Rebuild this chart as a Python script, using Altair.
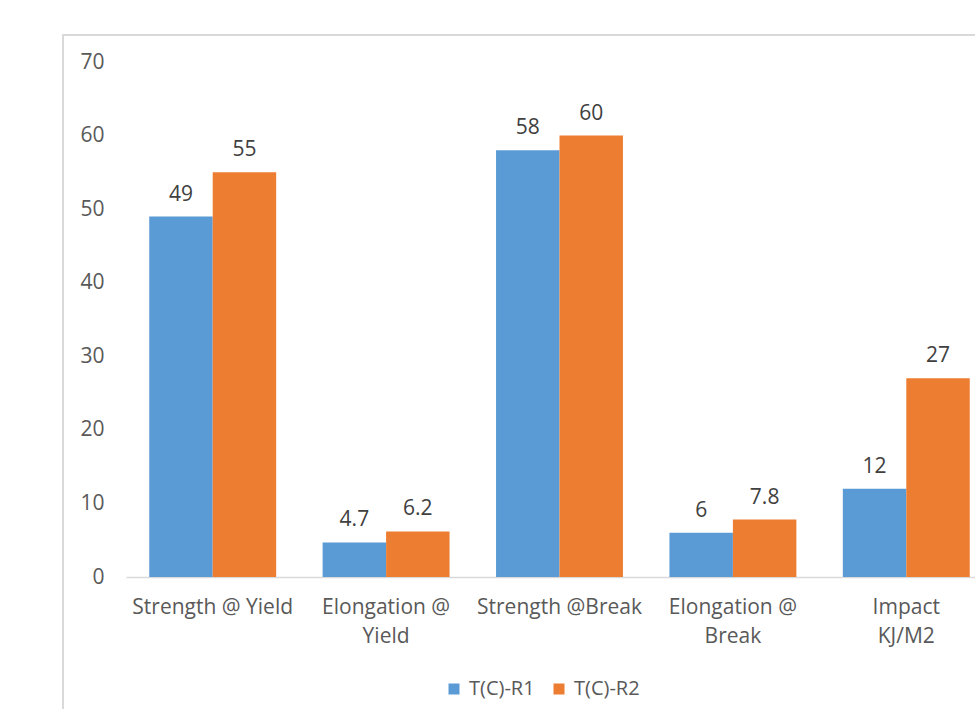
import json
import altair as alt
import pandas as pd

categories = ["Strength @ Yield", "Elongation @ Yield", "Strength @Break",
              "Elongation @ Break", "Impact KJ/M2"]
label_lines = [["Strength @ Yield"], ["Elongation @", "Yield"], ["Strength @Break"],
               ["Elongation @", "Break"], ["Impact", "KJ/M2"]]
series = ["T(C)-R1", "T(C)-R2"]
r1 = [49, 4.7, 58, 6, 12]
r2 = [55, 6.2, 60, 7.8, 27]
colors = ["#5B9BD5", "#ED7D31"]
y_ticks = [0, 10, 20, 30, 40, 50, 60, 70]

rows = []
for i, c in enumerate(categories):
    rows.append({"cat": c, "series": series[0], "value": r1[i]})
    rows.append({"cat": c, "series": series[1], "value": r2[i]})
df = pd.DataFrame(rows)

label_expr = " : ".join(
    f"datum.value == {json.dumps(c)} ? {json.dumps(l)}" for c, l in zip(categories, label_lines)
) + " : datum.label"

FONT = "Open Sans"
GRAY = "#595959"
FS = 21

x_enc = alt.X("cat:N", sort=categories,
              scale=alt.Scale(paddingInner=0.268, paddingOuter=0.134, range=[0, 867]),
              axis=alt.Axis(title=None, labelAngle=0, labelExpr=label_expr,
                            labelFontSize=FS, labelFont=FONT, labelColor=GRAY,
                            labelPadding=19, labelLineHeight=29, ticks=False,
                            domainColor="#D9D9D9", domainWidth=1.5, grid=False))
y_enc = alt.Y("value:Q", scale=alt.Scale(domain=[0, 70], nice=False),
              axis=alt.Axis(title=None, values=y_ticks, ticks=False, domain=False,
                            grid=False, labelFontSize=FS, labelFont=FONT,
                            labelColor=GRAY, labelPadding=22))
xoff = alt.XOffset("series:N", sort=series, scale=alt.Scale(paddingInner=0, paddingOuter=0))

frame = alt.Chart(pd.DataFrame({"f": [0]})).mark_rect(
    filled=False, stroke="#D9D9D9", strokeWidth=2, clip=False
).encode(x=alt.value(-63), x2=alt.value(1200), y=alt.value(-27), y2=alt.value(900))

bars = alt.Chart(df).mark_bar().encode(
    x=x_enc, y=y_enc, xOffset=xoff,
    color=alt.Color("series:N", sort=series,
                    scale=alt.Scale(domain=series, range=colors),
                    legend=alt.Legend(orient="none", legendX=318, legendY=617,
                                      direction="horizontal", title=None,
                                      symbolType="square", symbolSize=121,
                                      symbolStrokeWidth=0,
                                      labelFontSize=20, labelFont=FONT,
                                      labelColor=GRAY, columnPadding=14,
                                      labelOffset=5)),
)

text = alt.Chart(df).mark_text(
    baseline="alphabetic", dy=-16, fontSize=FS, font=FONT, color="#404040"
).encode(x=alt.X("cat:N", sort=categories), y="value:Q", xOffset=xoff,
         text=alt.Text("value:Q"))

chart = alt.layer(frame, bars, text).properties(
    width=849, height=515,
    autosize=alt.AutoSizeParams(type="none"),
    padding={"left": 126, "top": 62, "right": 0, "bottom": 132},
    background="white",
).configure_view(stroke=None)

chart.save("out.html", embed_options={"renderer": "svg", "actions": False})
